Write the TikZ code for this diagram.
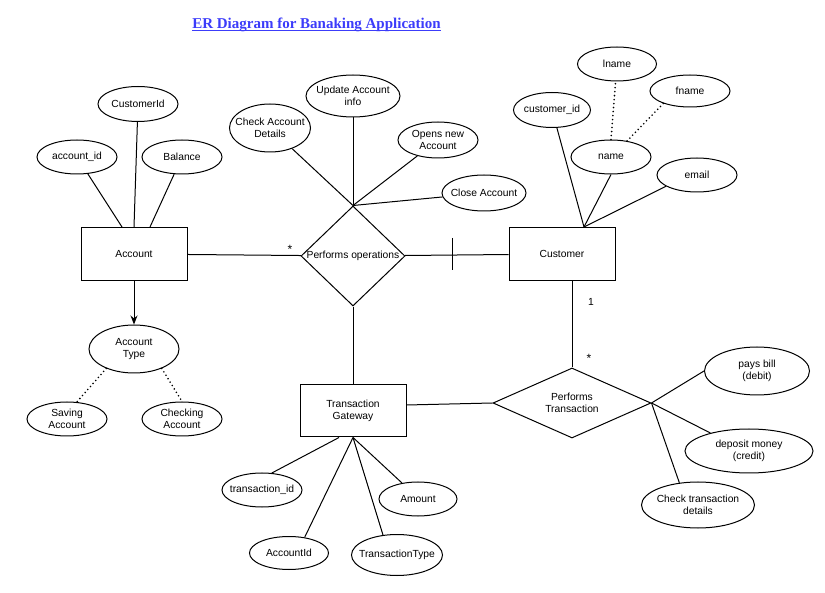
\documentclass[tikz,border=0pt]{standalone}
\usepackage{fontspec}
\setmainfont{Liberation Sans}
\newfontfamily\titlefont{Liberation Serif}
\usetikzlibrary{shapes.geometric,arrows.meta}
\definecolor{titleblue}{RGB}{60,60,250}
\begin{document}
\begin{tikzpicture}[x=1pt,y=-1pt,
  every node/.style={font=\fontsize{10.3}{12}\selectfont},
  lw/.style={line width=1pt},
  entity/.style={draw, lw, rectangle, minimum width=106, minimum height=53, align=center, inner sep=0},
  attr/.style n args={3}{draw, lw, ellipse, inner sep=0, minimum width=#1, minimum height=#2, label={[align=center]center:#3}},
  rel/.style n args={3}{draw, lw, diamond, inner sep=0, minimum width=#1, minimum height=#2, label={[align=center]center:#3}},
  link/.style={lw},
  dotline/.style={line width=1.8pt, dash pattern=on 0pt off 4pt, line cap=round},
  cardlabel/.style={inner sep=1pt},
]
\useasboundingbox (0,0) rectangle (825,593);

% title
\node[inner sep=0, text=titleblue, font=\titlefont\fontsize{15}{17}\selectfont\bfseries] (title) at (316.5,24.5) {ER Diagram for Banaking Application};
\draw[titleblue, line width=1.1pt] ([yshift=-2pt]title.base west) -- ([yshift=-2pt]title.base east);

% Account
\node[entity] (acc) at (134,254) {Account};
\node[attr={80}{34}{account\_id}] (accid) at (77,157) {};
\node[attr={80}{35}{CustomerId}] (custid) at (138,104) {};
\node[attr={80}{34}{Balance}] (bal) at (182,157) {};
\node[attr={90}{48}{Account\\Type}] (acctype) at (134,349) {};
\node[attr={80}{34}{Saving\\Account}] (saving) at (67,419) {};
\node[attr={80}{34}{Checking\\Account}] (checking) at (182,419) {};

% Performs operations
\node[rel={104}{100}{Performs operations}] (ops) at (353,256) {};
\node[attr={81}{48}{Check Account\\Details}] (chk) at (270,128) {};
\node[attr={94}{42}{Update Account\\info}] (upd) at (353,96) {};
\node[attr={80}{36}{Opens new\\Account}] (opens) at (438,140) {};
\node[attr={84}{36}{Close Account}] (close) at (484,193) {};

% Customer
\node[entity] (cust) at (562,254) {Customer};
\node[attr={77}{35}{customer\_id}] (cid) at (552,110) {};
\node[attr={80}{34}{name}] (name) at (611,157) {};
\node[attr={79}{34}{lname}] (lname) at (617,64) {};
\node[attr={80}{32}{fname}] (fname) at (690,91) {};
\node[attr={80}{34}{email}] (email) at (697,175) {};

% Transaction gateway
\node[entity, minimum height=52] (tg) at (353,411) {Transaction\\Gateway};
\node[attr={80}{34}{transaction\_id}] (tid) at (262,490) {};
\node[attr={78}{34}{Amount}] (amt) at (418,499) {};
\node[attr={79}{33}{AccountId}] (aid) at (289,553) {};
\node[attr={91}{41}{TransactionType}] (ttype) at (397,555) {};

% Performs Transaction
\node[rel={158}{70}{Performs\\Transaction}] (pt) at (572,403) {};
\node[attr={105}{48}{pays bill\\(debit)}] (pays) at (757,371) {};
\node[attr={128}{44}{deposit money\\(credit)}] (dep) at (749,451) {};
\node[attr={113}{46}{Check transaction\\details}] (ctd) at (698,505) {};

% connectors: Account
\draw[link] (accid) -- ([xshift=-12pt]acc.north);
\draw[link] (custid) -- (acc.north);
\draw[link] (bal) -- ([xshift=16pt]acc.north);
\draw[link,-{Stealth[length=9pt,width=7pt]}] (acc) -- (acctype);
\draw[dotline] (acctype.215) -- (saving.60);
\draw[dotline] (acctype.325) -- (checking.north);

% Account - ops - Customer
\draw[link] (acc) -- (ops);
\node[cardlabel, font=\fontsize{12}{12}\selectfont] (star1) at (290,249) {*};
\draw[link] (ops) -- (cust);
\coordinate (tick) at (452,254);
\draw[link] ([yshift=16pt]tick) -- ([yshift=-16pt]tick);

% ops attributes
\draw[link] (ops.north) -- (chk);
\draw[link] (ops.north) -- (upd);
\draw[link] (ops.north) -- (opens);
\draw[link] (ops.north) -- (close);

% customer attributes
\draw[link] ([xshift=22pt]cust.north) -- (cid);
\draw[link] ([xshift=22pt]cust.north) -- (name.south);
\draw[link] ([xshift=22pt]cust.north) -- (email.200);
\draw[dotline] (name.north) -- (lname);
\draw[dotline] (name.45) -- (fname.205);

% ops - TG
\draw[link] (ops) -- (tg);
\draw[link] ([yshift=6pt]tg.east) -- (pt.west);

% Customer - PT
\draw[link] ([xshift=10pt]cust.south) -- (pt.north);
\node[cardlabel] (one) at (591,302) {1};
\node[cardlabel, font=\fontsize{12}{12}\selectfont] (star2) at (589,358) {*};

% PT attributes
\draw[link] (pt.east) -- (pays.west);
\draw[link] (pt.east) -- (dep.155);
\draw[link] (pt.east) -- (ctd.130);

% TG attributes
\draw[link] ([xshift=-14pt]tg.south) -- (tid.60);
\draw[link] (tg.south) -- (aid.45);
\draw[link] (tg.south) -- (ttype.125);
\draw[link] (tg.south) -- (amt.135);
\end{tikzpicture}
\end{document}
